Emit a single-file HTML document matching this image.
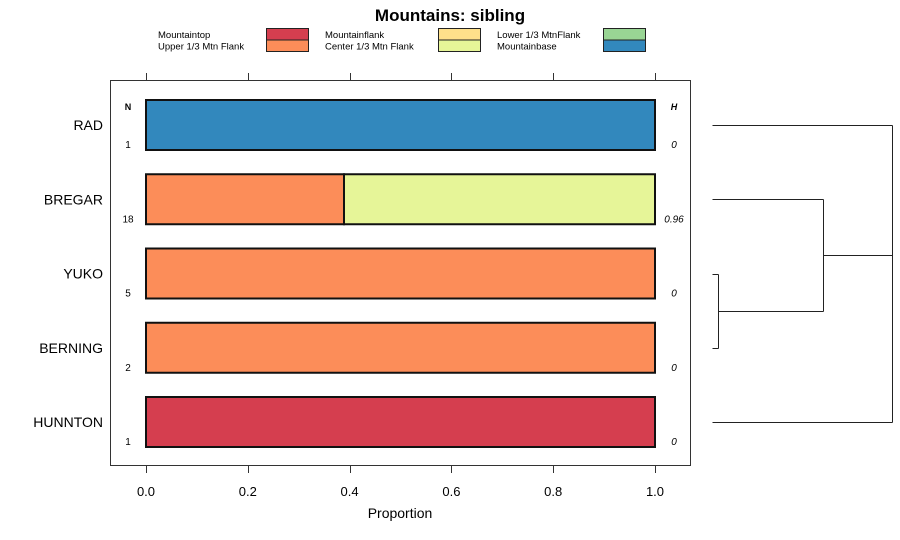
<!DOCTYPE html>
<html><head><meta charset="utf-8"><style>
body{margin:0;background:#fff;}
svg{display:block;font-family:"Liberation Sans",sans-serif;}
</style></head><body>
<svg id="c" width="900" height="540" xmlns="http://www.w3.org/2000/svg">
<text x="450" y="21" text-anchor="middle" font-size="17" font-weight="bold">Mountains: sibling</text>
<g id="legend"></g>
<rect x="110.5" y="80.5" width="580" height="385" fill="none" stroke="#333" stroke-width="1"/>
<g id="axes"></g>
<g id="bars"></g>
<g id="dendro" stroke="#222" stroke-width="1" fill="none"></g>
<text x="400" y="518" text-anchor="middle" font-size="14">Proportion</text>
</svg>
<script>
const categories = ["RAD","BREGAR","YUKO","BERNING","HUNNTON"];
const nValues = [1,18,5,2,1];
const hValues = ["0","0.96","0","0","0"];
const classNames = ["Mountaintop","Upper 1/3 Mtn Flank","Mountainflank","Center 1/3 Mtn Flank","Lower 1/3 MtnFlank","Mountainbase"];
const classColors = ["#d53e4f","#fc8d59","#fee08b","#e6f598","#99d594","#3288bd"];
// proportions per category in class order
const propMountaintop = [0,0,0,0,1];
const propUpper = [0,0.389,1,1,0];
const propFlank = [0,0,0,0,0];
const propCenter = [0,0.611,0,0,0];
const propLower = [0,0,0,0,0];
const propBase = [1,0,0,0,0];
const xTicks = [0,0.2,0.4,0.6,0.8,1.0];
const xTickLabels = ["0.0","0.2","0.4","0.6","0.8","1.0"];

const NS="http://www.w3.org/2000/svg";
function mk(t,a,p){const e=document.createElementNS(NS,t);for(const k in a)e.setAttribute(k,a[k]);p.appendChild(e);return e;}
const xS=v=>146+v*509;
const yS=i=>125+i*74.25;
const svg=document.getElementById('c');

// legend
const lg=document.getElementById('legend');
const lx=[[158,266],[325,438],[497,603]];
classNames.forEach((n,i)=>{
  const col=Math.floor(i/2),row=i%2;
  const t=mk('text',{x:lx[col][0],y:38+row*11.5,'font-size':9.5},lg);t.textContent=n;
  
  
  const r=mk('rect',{x:lx[col][1]+0.5,y:28.5+row*11.5,width:42,height:11.5,fill:classColors[i],stroke:'#222','stroke-width':1},lg);
  
  
});

// axes
const ax=document.getElementById('axes');
xTicks.forEach((v,i)=>{
  const x=Math.round(xS(v))+0.5;
  const t1=mk('line',{x1:x,x2:x,y1:73,y2:80,stroke:'#333'},ax);
  
  
  const t2=mk('line',{x1:x,x2:x,y1:466,y2:473,stroke:'#333'},ax);
  
  
  const l=mk('text',{x:xS(v),y:496,'text-anchor':'middle','font-size':13},ax);l.textContent=xTickLabels[i];
  
  
});
let hn=mk('text',{x:128,y:110,'text-anchor':'middle','font-size':9,'font-weight':'bold'},ax);hn.textContent='N';


let hh=mk('text',{x:674,y:110,'text-anchor':'middle','font-size':9,'font-weight':'bold','font-style':'italic'},ax);hh.textContent='H';



// bars
const bg=document.getElementById('bars');
const props=[propMountaintop,propUpper,propFlank,propCenter,propLower,propBase];
categories.forEach((c,i)=>{
  const yc=yS(i);
  const lab=mk('text',{x:103,y:yc+5,'text-anchor':'end','font-size':14},bg);lab.textContent=c;
  
  
  const nt=mk('text',{x:128,y:yc+23,'text-anchor':'middle','font-size':10},bg);nt.textContent=nValues[i];
  
  
  const ht=mk('text',{x:674,y:yc+23,'text-anchor':'middle','font-size':10,'font-style':'italic'},bg);ht.textContent=hValues[i];
  
  
  let cum=0;
  props.forEach((p,k)=>{
    if(p[i]>0){
      const r=mk('rect',{x:xS(cum),y:yc-25,width:xS(cum+p[i])-xS(cum),height:50,fill:classColors[k],stroke:'#111','stroke-width':2},bg);
      
      
      cum+=p[i];
    }
  });
});

// dendrogram
const dg=document.getElementById('dendro');
const segs=[[712,yS(2),718,yS(2)],[712,yS(3),718,yS(3)],[718,yS(2),718,yS(3)],
[718,(yS(2)+yS(3))/2,823,(yS(2)+yS(3))/2],[712,yS(1),823,yS(1)],[823,yS(1),823,(yS(2)+yS(3))/2],
[823,255,892,255],[712,yS(0),892,yS(0)],[712,yS(4),892,yS(4)],[892,yS(0),892,yS(4)]];
segs.forEach(s=>{
  const l=mk('line',{x1:s[0]+.5,y1:Math.round(s[1])+.5,x2:s[2]+.5,y2:Math.round(s[3])+.5},dg);
  
  
});
</script>
</body></html>
